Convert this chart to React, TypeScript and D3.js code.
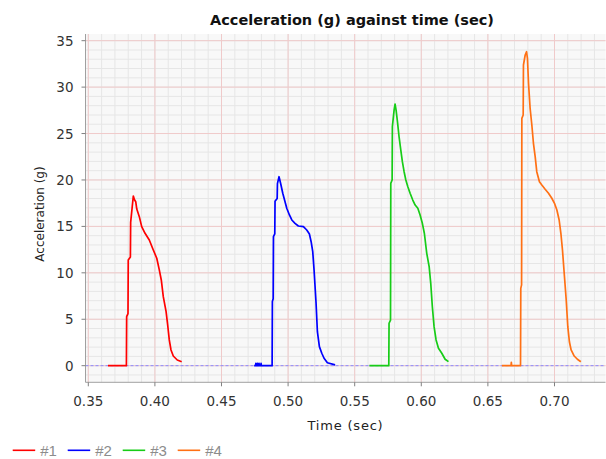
import React from "react";
import * as d3 from "d3";

// ---- data ----
const seriesNames = ["#1", "#2", "#3", "#4"];
const seriesColors = ["#ff0000", "#0000ff", "#17cc17", "#ff7014"];

const pulse1: [number, number][] = [
  [0.3648, 0], [0.3786, 0], [0.3788, 5.28], [0.3798, 5.6], [0.38, 11.38], [0.3816, 11.7],
  [0.3818, 15.44], [0.3838, 18.27],
  [0.3846, 17.9], [0.3856, 17.66], [0.3864, 16.87], [0.3883, 16.05], [0.3901, 14.97], [0.3926, 14.26],
  [0.3958, 13.54], [0.3988, 12.46], [0.4014, 11.57], [0.4033, 10.31], [0.4048, 9.23],
  [0.4063, 7.43], [0.4084, 5.82], [0.4096, 4.38], [0.4108, 2.77], [0.4121, 1.69],
  [0.4138, 1.04], [0.4168, 0.61], [0.4201, 0.43],
];
const pulse2: [number, number][] = [
  [0.4745, 0], [0.4756, 0], [0.4758, 0.25], [0.476, 0], [0.4768, 0], [0.477, 0.25], [0.4772, 0],
  [0.478, 0], [0.4782, 0.25], [0.4784, 0], [0.4795, 0], [0.4797, 0.25], [0.4799, 0],
  [0.488, 0], [0.4882, 6.9], [0.4888, 7.2], [0.489, 13.9], [0.49, 14.2], [0.4902, 17.7],
  [0.4918, 18.0], [0.492, 19.6], [0.4932, 20.35], [0.4945, 19.57], [0.496, 18.57],
  [0.4977, 17.66], [0.499, 16.95], [0.501, 16.23], [0.5028, 15.69], [0.5052, 15.33],
  [0.5077, 15.04], [0.5115, 14.97], [0.514, 14.61], [0.516, 14.18], [0.5173, 13.35],
  [0.5185, 12.28], [0.5195, 10.31], [0.521, 6.72], [0.522, 3.66], [0.5235, 2.05],
  [0.5253, 1.34], [0.527, 0.8], [0.5295, 0.32], [0.5353, 0.08],
];
const pulse3: [number, number][] = [
  [0.561, 0], [0.5756, 0], [0.5758, 4.57], [0.5769, 4.9], [0.5771, 19.64], [0.5781, 20.0],
  [0.5783, 25.74], [0.5796, 27.54], [0.5803, 28.18], [0.5811, 27.5], [0.5821, 26.28],
  [0.5833, 24.66], [0.5846, 23.23], [0.5858, 21.97], [0.5871, 20.89], [0.5884, 20.0],
  [0.5899, 19.28], [0.5916, 18.57], [0.5936, 17.84], [0.5954, 17.3], [0.5974, 16.95],
  [0.5991, 16.23], [0.6008, 15.33], [0.6023, 14.26], [0.6041, 12.1], [0.6059, 10.66],
  [0.6071, 8.87], [0.6083, 6.35], [0.6096, 4.2], [0.6111, 2.77], [0.6129, 1.87],
  [0.6154, 1.34], [0.6179, 0.69], [0.6204, 0.43],
];
const pulse4: [number, number][] = [
  [0.6605, 0], [0.6674, 0], [0.6676, 0.35], [0.6678, 0], [0.6745, 0], [0.6747, 8.33],
  [0.6753, 8.7], [0.6755, 26.64], [0.6765, 27.0], [0.6767, 32.38], [0.678, 33.46],
  [0.679, 33.81], [0.6797, 33.1], [0.6805, 30.41], [0.6817, 27.72], [0.683, 25.92],
  [0.6842, 23.95], [0.6855, 22.51], [0.6867, 20.89], [0.6887, 19.81], [0.6905, 19.46],
  [0.693, 19.0], [0.6955, 18.57], [0.698, 18.03], [0.7, 17.49], [0.7018, 16.77],
  [0.7035, 15.69], [0.7048, 14.26], [0.706, 12.46], [0.7073, 9.95], [0.7088, 7.08],
  [0.71, 4.2], [0.7112, 2.58], [0.7125, 1.69], [0.7148, 1.04], [0.7172, 0.69],
  [0.7198, 0.43],
];
const allSeries = [pulse1, pulse2, pulse3, pulse4];

const xTickValues = [0.35, 0.4, 0.45, 0.5, 0.55, 0.6, 0.65, 0.7];
const xTickLabels = ["0.35", "0.40", "0.45", "0.50", "0.55", "0.60", "0.65", "0.70"];
const yTickValues = [0, 5, 10, 15, 20, 25, 30, 35];
const yTickLabels = ["0", "5", "10", "15", "20", "25", "30", "35"];

const titleText = "Acceleration (g) against time (sec)";
const xLabelText = "Time (sec)";
const yLabelText = "Acceleration (g)";

// ---- layout ----
const W = 606;
const H = 459;
const L = 85.5;
const R = 605.5;
const T = 34;
const B = 382.3;

export default function App() {
  const x = d3.scaleLinear().domain([0.3479, 0.7383]).range([L, R]);
  const y = d3.scaleLinear().domain([-1.79, 35.72]).range([B, T]);

  const minorX = d3.range(35, 74).map((v) => v / 100).filter((v) => x(v) > L && x(v) < R);
  const minorY = d3.range(-1, 36).filter((v) => y(v) < B && y(v) > T);

  const line = d3
    .line<[number, number]>()
    .x((d) => x(d[0]))
    .y((d) => y(d[1]))
    .curve(d3.curveLinear);

  const font = "'DejaVu Sans', sans-serif";

  return (
    <svg
      width={W}
      height={H}
      style={{ position: "absolute", left: 0, top: 0, background: "#fff" }}
    >
      <rect x={L} y={T} width={R - L} height={B - T} fill="#f8f8f8" />
      {minorX.map((v) => (
        <line key={"mx" + v} x1={x(v)} x2={x(v)} y1={T} y2={B} stroke="#e6e6e6" strokeWidth={1} />
      ))}
      {minorY.map((v) => (
        <line key={"my" + v} x1={L} x2={R} y1={y(v)} y2={y(v)} stroke="#e6e6e6" strokeWidth={1} />
      ))}
      {xTickValues.map((v) => (
        <line key={"gx" + v} x1={x(v)} x2={x(v)} y1={T} y2={B} stroke="#f0caca" strokeWidth={1} />
      ))}
      {yTickValues.map((v) => (
        <line key={"gy" + v} x1={L} x2={R} y1={y(v)} y2={y(v)} stroke="#f0caca" strokeWidth={1} />
      ))}
      <line
        x1={L}
        x2={R}
        y1={y(0)}
        y2={y(0)}
        stroke="#8a8aff"
        strokeWidth={1}
        strokeDasharray="3,2"
      />
      {allSeries.map((s, i) => (
        <path
          key={"s" + i}
          d={line(s) || ""}
          fill="none"
          stroke={seriesColors[i]}
          strokeWidth={1.7}
          strokeLinejoin="round"
        />
      ))}

      {/* axes */}
      <line x1={L} x2={L} y1={T} y2={B} stroke="#a0a0a0" strokeWidth={1} />
      <line x1={L} x2={R} y1={B} y2={B} stroke="#a0a0a0" strokeWidth={1} />
      {yTickValues.map((v, i) => (
        <g key={"yt" + v}>
          <line x1={L - 4} x2={L} y1={y(v)} y2={y(v)} stroke="#808080" />
          <text
            x={73.5}
            y={y(v) + 5}
            textAnchor="end"
            fontFamily={font}
            fontSize={13.5}
            fill="#333"
          >
            {yTickLabels[i]}
          </text>
        </g>
      ))}
      {xTickValues.map((v, i) => (
        <g key={"xt" + v}>
          <line x1={x(v)} x2={x(v)} y1={B} y2={B + 4} stroke="#808080" />
          <text
            x={x(v)}
            y={405.5}
            textAnchor="middle"
            fontFamily={font}
            fontSize={13.5}
            fill="#333"
          >
            {xTickLabels[i]}
          </text>
        </g>
      ))}

      <text
        x={352}
        y={25}
        textAnchor="middle"
        fontFamily={font}
        fontWeight="bold"
        fontSize={14.5}
        fill="#111"
      >
        {titleText}
      </text>
      <text
        x={345.5}
        y={429.5}
        textAnchor="middle"
        fontFamily={font}
        fontSize={13}
        letterSpacing={0.8}
        fill="#222"
      >
        {xLabelText}
      </text>
      <text
        transform={`translate(43.5, 214) rotate(-90)`}
        textAnchor="middle"
        fontFamily={font}
        fontSize={12}
        fill="#222"
      >
        {yLabelText}
      </text>

      {/* legend */}
      {seriesNames.map((n, i) => (
        <g key={"lg" + n} transform={`translate(${12.7 + i * 55}, 0)`}>
          <line x1={0} x2={22.5} y1={450.3} y2={450.3} stroke={seriesColors[i]} strokeWidth={1.6} />
          <text x={27.5} y={456} fontFamily="'Liberation Sans', Arial, sans-serif" fontSize={15} fill="#8c8c8c">
            {n}
          </text>
        </g>
      ))}
    </svg>
  );
}
